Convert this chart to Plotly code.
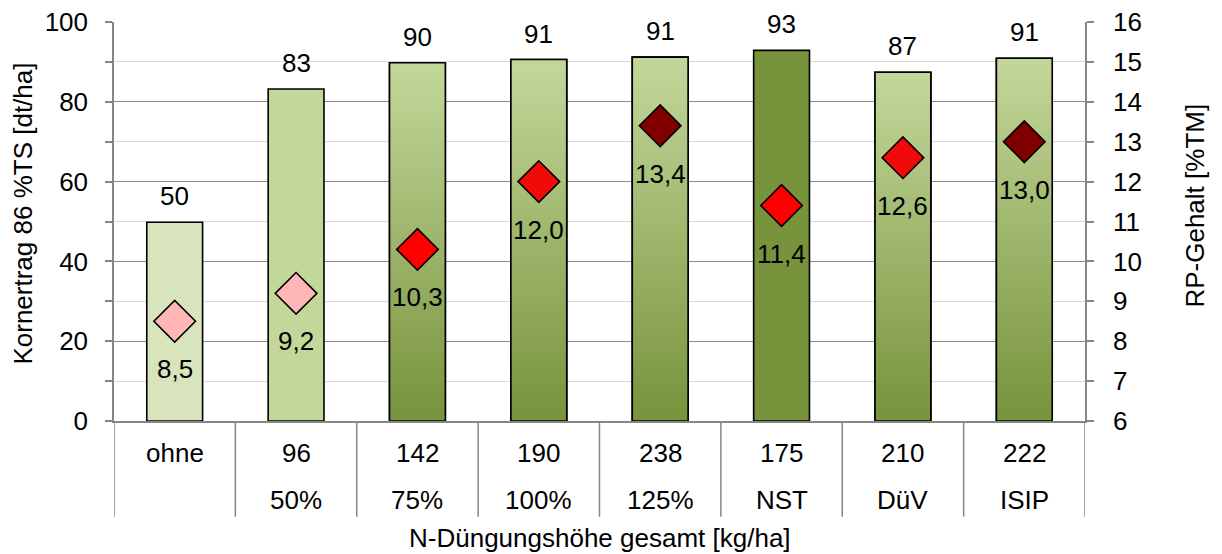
import plotly.graph_objects as go

# ---- data ----
categories = ["ohne", "96", "142", "190", "238", "175", "210", "222"]
sublabels = ["", "50%", "75%", "100%", "125%", "NST", "DüV", "ISIP"]
ertrag = [49.8, 83.2, 89.8, 90.6, 91.2, 92.9, 87.4, 90.9]
rp_gehalt = [8.5, 9.2, 10.3, 12.0, 13.4, 11.4, 12.6, 13.0]

# ---- styles ----
bar_fill = ["#d8e4bc", "#c4d79b", "grad", "grad", "grad", "#77933c", "grad", "grad"]
grad_top, grad_bottom = "#c4d79b", "#77933c"
diamond_colors = ["#ffb6b6", "#ffb6b6", "#ff0000", "#f00a0a", "#800000", "#ff0000", "#f00a0a", "#800000"]
FONT = "Liberation Sans, Arial, sans-serif"
FS = 26
GRAY = "#868686"
BAR_W = 0.46

xs = list(range(len(categories)))

fig = go.Figure()

# base bars
fig.add_trace(go.Bar(
    x=xs, y=ertrag, width=BAR_W,
    marker=dict(color=[c if c != "grad" else grad_bottom for c in bar_fill],
                line=dict(color="black", width=1.6)),
    showlegend=False, hoverinfo="y"))

# gradient overlays for gradient bars
for i, (v, c) in enumerate(zip(ertrag, bar_fill)):
    if c != "grad":
        continue
    x0, x1 = i - BAR_W / 2, i + BAR_W / 2
    fig.add_trace(go.Scatter(
        x=[x0, x0, x1, x1, x0], y=[0, v, v, 0, 0],
        mode="lines", fill="toself",
        fillgradient=dict(type="vertical",
                          colorscale=[[0, grad_bottom], [1, grad_top]]),
        line=dict(color="black", width=1.6),
        showlegend=False, hoverinfo="skip"))

# diamonds on secondary axis
fig.add_trace(go.Scatter(
    x=xs, y=rp_gehalt, yaxis="y2", mode="markers",
    marker=dict(symbol="diamond", size=32, color=diamond_colors,
                line=dict(color="black", width=1.6)),
    showlegend=False, hoverinfo="y"))

annotations = []
# bar value labels
for i, v in enumerate(ertrag):
    annotations.append(dict(x=i, y=v, xref="x", yref="y", text=f"{v:.0f}",
                            showarrow=False, yanchor="middle", yshift=26,
                            font=dict(family=FONT, size=FS, color="black")))
# diamond labels
for i, v in enumerate(rp_gehalt):
    annotations.append(dict(x=i, y=v, xref="x", yref="y2",
                            text=f"{v:.1f}".replace(".", ","),
                            showarrow=False, yanchor="middle", yshift=-48,
                            font=dict(family=FONT, size=FS, color="black")))
# category labels (two rows)
for i, (c, s) in enumerate(zip(categories, sublabels)):
    annotations.append(dict(x=i, y=-0.080, xref="x", yref="paper", text=c,
                            showarrow=False, yanchor="middle",
                            font=dict(family=FONT, size=FS, color="black")))
    if s:
        annotations.append(dict(x=i, y=-0.198, xref="x", yref="paper", text=s,
                                showarrow=False, yanchor="middle",
                                font=dict(family=FONT, size=FS, color="black")))
# axis titles
annotations.append(dict(x=0.5, y=-0.293, xref="paper", yref="paper",
                        text="N-Düngungshöhe gesamt [kg/ha]", showarrow=False,
                        yanchor="middle", font=dict(family=FONT, size=FS, color="black")))
annotations.append(dict(x=-0.0947, y=0.52, xref="paper", yref="paper",
                        text="Kornertrag 86 %TS [dt/ha]", textangle=-90, showarrow=False,
                        xanchor="center", yanchor="middle",
                        font=dict(family=FONT, size=FS, color="black")))
annotations.append(dict(x=1.1133, y=0.54, xref="paper", yref="paper",
                        text="RP-Gehalt [%TM]", textangle=-90, showarrow=False,
                        xanchor="center", yanchor="middle",
                        font=dict(family=FONT, size=FS, color="black")))

# category separators below axis
shapes = []
for k in range(len(categories) + 1):
    shapes.append(dict(type="line", xref="x", yref="paper",
                       x0=k - 0.5, x1=k - 0.5, y0=0, y1=-0.24,
                       line=dict(color=GRAY, width=1.5)))

fig.update_layout(
    width=1222, height=554,
    margin=dict(l=114, r=137, t=22, b=133),
    paper_bgcolor="white", plot_bgcolor="white",
    font=dict(family=FONT, size=FS, color="black"),
    bargap=0.5,
    xaxis=dict(range=[-0.5, 7.5], showticklabels=False, showgrid=False,
               zeroline=False, showline=True, linecolor=GRAY, linewidth=1.5,
               ticks=""),
    yaxis=dict(range=[0, 100], tickvals=[0, 20, 40, 60, 80, 100],
               showgrid=True, gridcolor="#8c8c8c", gridwidth=1.3,
               minor=dict(dtick=10, showgrid=True, gridcolor="#d9d9d9", gridwidth=1.3,
                          ticks="outside", ticklen=7, tickcolor=GRAY, tickwidth=1.5),
               ticks="outside", ticklen=7, tickcolor=GRAY, tickwidth=1.5,
               showline=True, linecolor=GRAY, linewidth=1.5, zeroline=False,
               ticklabelstandoff=12, automargin=False),
    yaxis2=dict(range=[6, 16], dtick=1, overlaying="y", side="right",
                showgrid=False, zeroline=False, ticks="outside", ticklen=7,
                tickcolor=GRAY, tickwidth=1.5, showline=True, linecolor=GRAY,
                linewidth=1.5, ticklabelstandoff=14, automargin=False),
    annotations=annotations, shapes=shapes,
)

fig.write_html("out.html", config={"displayModeBar": False},
               post_script="document.body.style.margin='0';document.body.style.overflow='hidden';")
